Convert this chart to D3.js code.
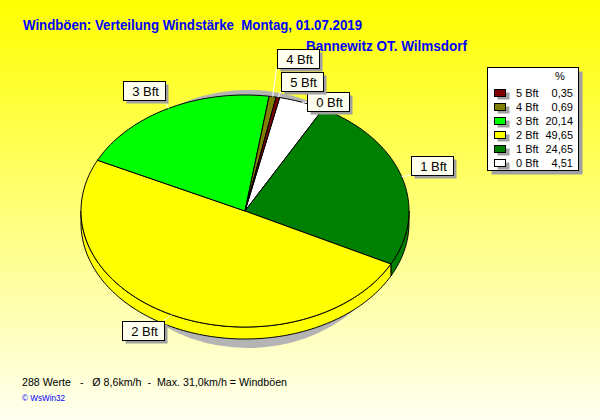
<!DOCTYPE html>
<html><head><meta charset="utf-8">
<script src="https://cdn.jsdelivr.net/npm/d3@7"></script>
<style>html,body{margin:0;padding:0;background:#fff}svg{display:block}</style>
</head><body>
<script>
// ---- data ----
const categories = ["0 Bft","1 Bft","2 Bft","3 Bft","4 Bft","5 Bft"];
const percents   = [4.51, 24.65, 49.65, 20.14, 0.69, 0.35];
const colors     = ["#FFFFFF","#008000","#FFFF00","#00FF00","#808000","#800000"];
const titleText  = "Windböen: Verteilung Windstärke  Montag, 01.07.2019";
const subtitleText = "Bannewitz OT. Wilmsdorf";
const footerText = "288 Werte   -   Ø 8,6km/h  -  Max. 31,0km/h = Windböen";
const creditText = "© WsWin32";

// ---- layout ----
const W = 600, H = 420;
const cx = 245, cy = 211, rx = 164, ry = 116, depth = 12;
const startDeg = 12.2;
// label box offsets relative to slice anchor (layout only)
const labelOffsets = [[5,-10],[9.4,-20.7],[-50,6],[-46,-27],[4,-47.6],[3.6,-25.6]];
const boxW = 42, boxH = 19;

const svg = d3.select("body").append("svg").attr("width", W).attr("height", H)
  .attr("font-family", "'Liberation Sans', Arial, sans-serif");

const defs = svg.append("defs");
const grad = defs.append("linearGradient").attr("id","bg").attr("x1",0).attr("y1",0).attr("x2",0).attr("y2",1);
grad.append("stop").attr("offset","0%").attr("stop-color","#FFFF00");
grad.append("stop").attr("offset","100%").attr("stop-color","#FFFFF0");
svg.append("rect").attr("width",W).attr("height",H).attr("fill","url(#bg)");

// titles
svg.append("text").attr("x",23).attr("y",30).attr("fill","#0000FF").attr("font-weight","bold")
  .attr("font-size",14).style("white-space","pre").attr("textLength",339).attr("lengthAdjust","spacingAndGlyphs")
  .text(titleText);
svg.append("text").attr("x",306).attr("y",51).attr("fill","#0000FF").attr("font-weight","bold")
  .attr("font-size",14).attr("textLength",161).attr("lengthAdjust","spacingAndGlyphs")
  .text(subtitleText);

// pie layout
const pie = d3.pie().sort(null).value(d => d.v)
  .startAngle(startDeg*Math.PI/180).endAngle(startDeg*Math.PI/180 + 2*Math.PI);
const data = categories.map((c,i) => ({c, v: percents[i], col: colors[i], i}));
const arcs = pie(data);

const pt = (a, dy=0) => [cx + rx*Math.sin(a), cy - ry*Math.cos(a) + dy];
const line = d3.line();
function arcPts(a0, a1, dy=0) {
  const n = Math.max(2, Math.ceil(Math.abs(a1-a0)/(Math.PI/180)));
  return d3.range(n+1).map(k => pt(a0 + (a1-a0)*k/n, dy));
}

// pie shadow
svg.append("ellipse").attr("cx",248).attr("cy",219).attr("rx",150).attr("ry",129).attr("fill","#B4B4B4");

// walls (front half)
const wallG = svg.append("g");
arcs.forEach(d => {
  [0, -2*Math.PI, 2*Math.PI].forEach(sh => {
    const a0 = Math.max(d.startAngle+sh, Math.PI/2);
    const a1 = Math.min(d.endAngle+sh, 3*Math.PI/2);
    if (a1 > a0 + 1e-6) {
      const top = arcPts(a0, a1, 0);
      const bot = arcPts(a0, a1, depth).reverse();
      wallG.append("path").attr("d", line(top.concat(bot)) + "Z")
        .attr("fill", d.data.col).attr("stroke","#000").attr("stroke-width",1).attr("stroke-linejoin","round");
    }
  });
});

// top faces
const topG = svg.append("g");
arcs.forEach(d => {
  const pts = [[cx,cy]].concat(arcPts(d.startAngle, d.endAngle, 0));
  topG.append("path").attr("d", line(pts) + "Z")
    .attr("fill", d.data.col).attr("stroke","#000").attr("stroke-width",1).attr("stroke-linejoin","round");
});

// labels
const labG = svg.append("g");
arcs.forEach((d,i) => {
  const mid = (d.startAngle + d.endAngle)/2;
  const [ax, ay] = pt(mid, 0);
  const bx = ax + labelOffsets[i][0], by = ay + labelOffsets[i][1];
  const ex = Math.max(bx, Math.min(bx+boxW, ax));
  const ey = Math.max(by, Math.min(by+boxH, ay));
  labG.append("line").attr("x1",ax).attr("y1",ay).attr("x2",ex).attr("y2",ey)
    .attr("stroke","#FFFFFF").attr("stroke-width",1);
  labG.append("rect").attr("x",Math.round(bx)+3.5).attr("y",Math.round(by)+3.5).attr("width",boxW).attr("height",boxH)
    .attr("fill","#A0A0A0");
  labG.append("rect").attr("x",Math.round(bx)+0.5).attr("y",Math.round(by)+0.5).attr("width",boxW).attr("height",boxH)
    .attr("fill","#FFFFF0").attr("stroke","#000").attr("stroke-width",1);
  labG.append("text").attr("x",Math.round(bx)+boxW/2+1.5).attr("y",Math.round(by)+14.5)
    .attr("text-anchor","middle").attr("font-size",13).attr("fill","#000").text(d.data.c);
});

// legend
const lg = svg.append("g");
const lx = 487, ly = 67, lw = 91, lh = 103;
lg.append("rect").attr("x",lx+4.5).attr("y",ly+4.5).attr("width",lw).attr("height",lh).attr("fill","#A0A0A0");
lg.append("rect").attr("x",lx+0.5).attr("y",ly+0.5).attr("width",lw).attr("height",lh).attr("fill","#FFFFFF")
  .attr("stroke","#000");
lg.append("text").attr("x",560).attr("y",80).attr("text-anchor","middle").attr("font-size",11).text("%");
const fmt = v => d3.format(".2f")(v).replace(".", ",");
const legendOrder = d3.range(categories.length).reverse();
const rowY = d3.scalePoint().domain(legendOrder).range([93,163]);
legendOrder.forEach(i => {
  const y = rowY(i);
  lg.append("rect").attr("x",497.5).attr("y",y-3.5+3).attr("width",12).attr("height",7).attr("fill","#A0A0A0");
  lg.append("rect").attr("x",494.5).attr("y",y-3.5).attr("width",11).attr("height",7).attr("fill",colors[i])
    .attr("stroke","#000");
  lg.append("text").attr("x",516).attr("y",y+4).attr("font-size",11).text(categories[i]);
  lg.append("text").attr("x",573).attr("y",y+4).attr("font-size",11).attr("text-anchor","end").text(fmt(percents[i]));
});

// footer
svg.append("text").attr("x",22).attr("y",386).attr("font-size",11).style("white-space","pre").attr("fill","#000")
  .attr("textLength",265).attr("lengthAdjust","spacingAndGlyphs").text(footerText);
svg.append("text").attr("x",22).attr("y",401).attr("font-size",9).attr("fill","#0000FF")
  .attr("textLength",43).attr("lengthAdjust","spacingAndGlyphs").text(creditText);
</script>
</body></html>
